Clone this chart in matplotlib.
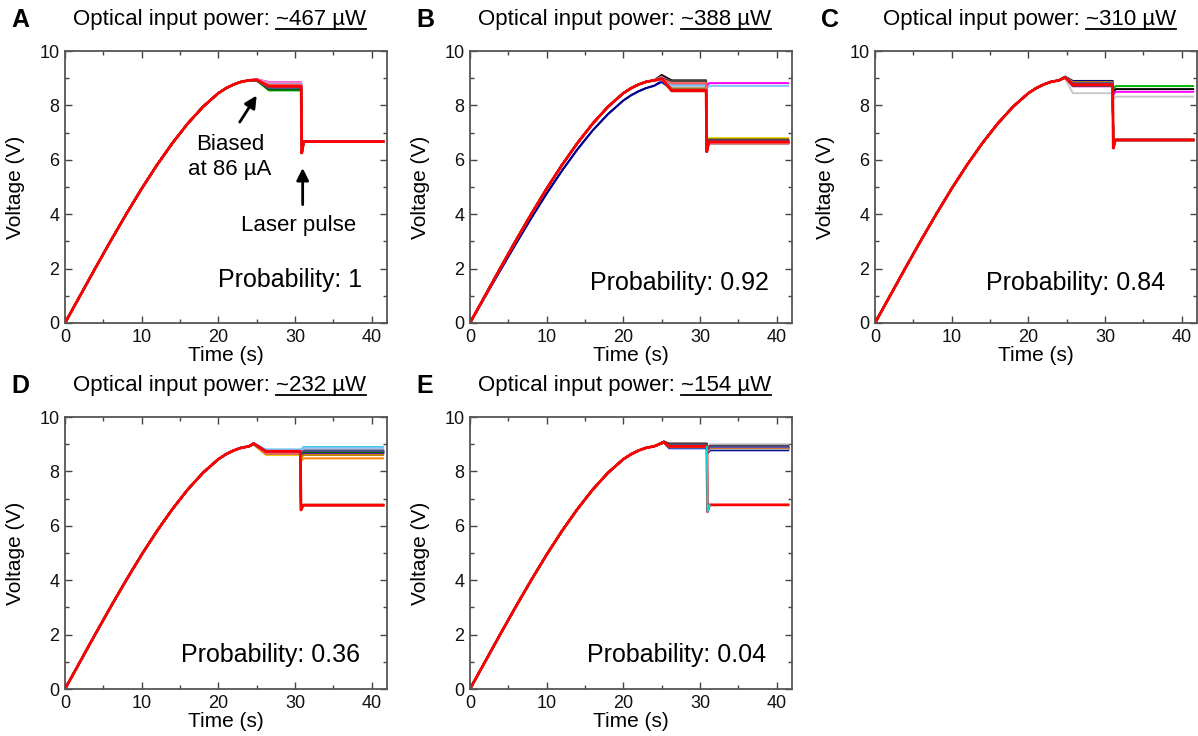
import matplotlib
matplotlib.use("Agg")
import matplotlib.pyplot as plt
from matplotlib.lines import Line2D
from matplotlib.ticker import MultipleLocator

plt.rcParams["font.family"] = ["Liberation Sans", "DejaVu Sans"]

# ---- shared rise of the voltage sweep ----
TIME_RISE = [0, 2, 4, 6, 8, 10, 12, 14, 16, 18, 20, 21, 22, 23, 24]
VOLT_RISE = [0, 1.02, 2.04, 3.04, 4.01, 4.94, 5.81, 6.61, 7.33, 7.95, 8.45, 8.63, 8.77, 8.87, 8.92]
VOLT_RISE_LOW = [0, 0.98, 1.96, 2.92, 3.86, 4.76, 5.60, 6.38, 7.08, 7.68, 8.18, 8.37, 8.52,
                 8.64, 8.72]
T_END = 41.5

TRACE_COLORS = ["#000000", "#0000FF", "#00B000", "#FF00FF", "#00E0E0", "#E6D200",
                "#FF8000", "#800080", "#000080", "#808000", "#800000", "#008080",
                "#4169E1", "#8000FF", "#FF80C0", "#A0A0A0", "#C8C8C8", "#A0522D",
                "#80C0FF", "#006400", "#404040", "#C08000", "#FF6060", "#5050A0",
                "#FF0000"]

LETTERS = ["A", "B", "C", "D", "E"]
POWERS = ["~467 µW", "~388 µW", "~310 µW", "~232 µW", "~154 µW"]
PROBS = ["Probability: 1", "Probability: 0.92", "Probability: 0.84",
         "Probability: 0.36", "Probability: 0.04"]
PROB_XY = [(38.7, 1.58), (39.0, 1.47), (37.8, 1.47), (38.5, 1.25), (38.6, 1.25)]

T_PEAK = [25.0, 25.0, 24.8, 24.6, 25.3]
T_SETTLE = [26.6, 26.3, 25.8, 26.2, 26.0]
T_PULSE = [30.8, 30.8, 31.0, 30.7, 30.9]
DIP = [6.25, 6.30, 6.43, 6.58, 6.52]

A_peak = [8.93, 8.95, 8.92, 8.96, 8.93, 8.94, 8.92, 8.95, 8.93, 8.94, 8.92, 8.95, 8.96,
          8.93, 8.96, 8.92, 8.94, 8.91, 8.95, 8.92, 8.93, 8.94, 8.95, 8.92, 8.94]
A_plateau = [8.64, 8.80, 8.55, 8.86, 8.74, 8.70, 8.66, 8.78, 8.72, 8.68, 8.62, 8.76, 8.82,
             8.70, 8.85, 8.68, 8.74, 8.60, 8.78, 8.58, 8.66, 8.72, 8.76, 8.64, 8.70]
A_after = [6.66, 6.68, 6.67, 6.69, 6.66, 6.68, 6.67, 6.68, 6.66, 6.67, 6.69, 6.68, 6.66,
           6.67, 6.68, 6.67, 6.66, 6.68, 6.67, 6.69, 6.68, 6.66, 6.67, 6.68, 6.67]

B_peak = [9.12, 8.86, 9.02, 9.05, 8.98, 9.00, 8.95, 9.02, 8.90, 9.00, 8.96, 9.04, 8.94,
          9.00, 9.06, 8.98, 9.00, 8.95, 8.92, 9.02, 8.98, 9.00, 8.96, 9.00, 8.98]
B_plateau = [8.92, 8.60, 8.55, 8.85, 8.62, 8.88, 8.70, 8.58, 8.66, 8.75, 8.52, 8.64, 8.70,
             8.80, 8.60, 8.72, 8.68, 8.78, 8.74, 8.56, 8.90, 8.62, 8.82, 8.58, 8.55]
B_after = [6.72, 6.62, 6.70, 8.82, 6.65, 6.80, 6.68, 6.62, 6.66, 6.74, 6.60, 6.70, 6.64,
           6.68, 6.72, 6.62, 6.70, 6.66, 8.72, 6.64, 6.74, 6.68, 6.62, 6.70, 6.66]
B_low_rise = [1, 8]

C_peak = [9.05, 9.03, 9.02, 9.00, 9.03, 9.04, 9.02, 9.05, 9.06, 9.03, 9.04, 9.02, 9.05,
          9.03, 9.04, 9.02, 8.98, 9.03, 9.02, 9.04, 9.03, 9.05, 9.02, 9.04, 9.03]
C_plateau = [8.88, 8.82, 8.75, 8.70, 8.80, 8.78, 8.72, 8.85, 8.90, 8.76, 8.84, 8.80, 8.86,
             8.74, 8.82, 8.78, 8.45, 8.80, 8.76, 8.84, 8.72, 8.86, 8.78, 8.82, 8.76]
C_after = [8.60, 6.72, 8.71, 8.50, 6.74, 6.73, 6.72, 6.73, 6.74, 6.72, 6.73, 6.74, 6.72,
           6.73, 6.74, 6.72, 8.32, 6.73, 6.74, 6.72, 6.73, 6.74, 6.72, 6.73, 6.73]

D_peak = [9.03, 9.01, 9.02, 9.00, 9.04, 8.98, 9.01, 9.02, 9.03, 9.01, 9.02, 9.00, 9.03,
          9.01, 9.02, 9.00, 9.03, 9.01, 9.04, 9.00, 9.02, 9.01, 9.00, 9.02, 9.03]
D_plateau = [8.75, 8.70, 8.68, 8.72, 8.80, 8.60, 8.66, 8.70, 8.74, 8.68, 8.72, 8.70, 8.76,
             8.66, 8.74, 8.70, 8.78, 8.72, 8.80, 8.68, 8.74, 8.70, 8.66, 8.72, 8.74]
D_after = [8.75, 8.68, 6.76, 8.72, 8.90, 6.75, 8.48, 8.70, 8.72, 6.77, 8.74, 6.76, 8.80,
           8.66, 6.75, 8.78, 8.85, 6.77, 8.88, 8.70, 6.76, 8.60, 6.75, 8.76, 6.76]

E_peak = [9.10, 9.06, 9.08, 9.07, 9.09, 9.05, 9.08, 9.07, 9.06, 9.09, 9.08, 9.07, 9.10,
          9.06, 9.08, 9.07, 9.09, 9.06, 9.08, 9.07, 9.10, 9.06, 9.08, 9.07, 9.08]
E_plateau = [9.00, 8.85, 8.92, 8.95, 8.90, 8.88, 8.94, 8.96, 8.86, 8.98, 9.02, 8.92, 8.90,
             8.94, 8.96, 8.98, 9.00, 8.92, 8.88, 8.95, 9.02, 8.90, 8.94, 8.96, 8.92]
E_after = [8.90, 8.78, 8.86, 8.88, 6.75, 8.82, 8.86, 8.84, 8.78, 8.92, 8.85, 8.88, 8.84,
           8.86, 8.90, 8.96, 9.00, 8.84, 8.82, 8.88, 8.94, 8.85, 8.88, 8.90, 6.77]
# cyan record in E only covers the pulse window and shows on top
E_window = {4: (29.5, 31.3)}

PEAKS = [A_peak, B_peak, C_peak, D_peak, E_peak]
PLATEAUS = [A_plateau, B_plateau, C_plateau, D_plateau, E_plateau]
AFTERS = [A_after, B_after, C_after, D_after, E_after]

# axes placement in pixels: (left, top)
AX_PX = [(65, 51), (470, 51), (875, 51), (65, 417), (470, 417)]
W_PX, H_PX = 322, 272
FIG_W, FIG_H = 1198, 736


def build_trace(p, i):
    rise = VOLT_RISE_LOW if (p == 1 and i in B_low_rise) else VOLT_RISE
    plateau = PLATEAUS[p][i]
    after = AFTERS[p][i]
    tp = T_PULSE[p]
    t = list(TIME_RISE) + [T_PEAK[p], T_SETTLE[p], tp]
    v = list(rise) + [PEAKS[p][i], plateau, plateau]
    if after < 7.5:  # switched by the laser pulse
        t += [tp + 0.08, tp + 0.35, T_END]
        v += [DIP[p], after, after]
    else:
        t += [tp + 0.1, tp + 0.4, T_END]
        v += [after - 0.1, after, after]
    if p == 4 and i in E_window:
        t0, t1 = E_window[i]
        keep = [k for k, tk in enumerate(t) if t0 <= tk <= t1]
        t = [t[k] for k in keep]
        v = [v[k] for k in keep]
    return t, v


fig = plt.figure(figsize=(FIG_W / 100, FIG_H / 100), dpi=100)
title_items = []

for p in range(5):
    left, top = AX_PX[p]
    ax = fig.add_axes([left / FIG_W, 1 - (top + H_PX) / FIG_H, W_PX / FIG_W, H_PX / FIG_H])

    for i, col in enumerate(TRACE_COLORS):
        t, v = build_trace(p, i)
        on_top = p == 4 and i in E_window
        ax.plot(t, v, color=col, lw=2.0 if col == "#FF0000" else 1.4,
                solid_joinstyle="round", zorder=3 if on_top else 2)

    ax.set_xlim(0, 42)
    ax.set_ylim(0, 10)
    ax.xaxis.set_major_locator(MultipleLocator(10))
    ax.xaxis.set_minor_locator(MultipleLocator(5))
    ax.yaxis.set_major_locator(MultipleLocator(2))
    ax.yaxis.set_minor_locator(MultipleLocator(1))
    ax.tick_params(which="both", direction="in", top=True, right=True, colors="#444444",
                   labelcolor="#111111", labelsize=13, pad=4, width=1.0)
    ax.tick_params(which="major", length=5)
    ax.tick_params(which="minor", length=3)
    for s in ax.spines.values():
        s.set_color("#555555")
        s.set_linewidth(1.3)

    ax.set_xlabel("Time (s)", fontsize=15)
    ax.set_ylabel("Voltage (V)", fontsize=15)
    ax.xaxis.set_label_coords(0.5, -0.085)
    ax.yaxis.set_label_coords(-0.125, 0.5)

    ax.text(-0.14, 1.114, LETTERS[p], transform=ax.transAxes, fontsize=18,
            fontweight="bold", ha="center", va="center")
    full = ax.text(0.48, 1.114, "Optical input power: " + POWERS[p], transform=ax.transAxes,
                   fontsize=16, ha="center", va="center")
    title_items.append((full, POWERS[p]))

    px, py = PROB_XY[p]
    ax.text(px, py, PROBS[p], fontsize=18, ha="right", va="center")

    if p == 0:
        ax.text(21.5, 6.1, "Biased\nat 86 µA", fontsize=16, ha="center", va="center",
                linespacing=1.3)
        ax.annotate("", xy=(25.2, 8.45), xytext=(22.6, 7.3),
                    arrowprops=dict(arrowstyle="-|>", lw=2, color="black", mutation_scale=18))
        ax.text(30.5, 3.57, "Laser pulse", fontsize=16, ha="center", va="center")
        ax.annotate("", xy=(31.0, 5.8), xytext=(31.0, 4.25),
                    arrowprops=dict(arrowstyle="-|>", lw=2, color="black", mutation_scale=18))

# underline the power values in the titles
fig.canvas.draw()
renderer = fig.canvas.get_renderer()
for full, val in title_items:
    bb = full.get_window_extent(renderer)
    tmp = fig.text(0, 0, val, fontsize=16)
    w = tmp.get_window_extent(renderer).width
    tmp.remove()
    y = (bb.y0 + 1.5) / FIG_H
    fig.add_artist(Line2D([(bb.x1 - w) / FIG_W, bb.x1 / FIG_W], [y, y], color="black", lw=1.3))

fig.savefig("out.png", dpi=100)
